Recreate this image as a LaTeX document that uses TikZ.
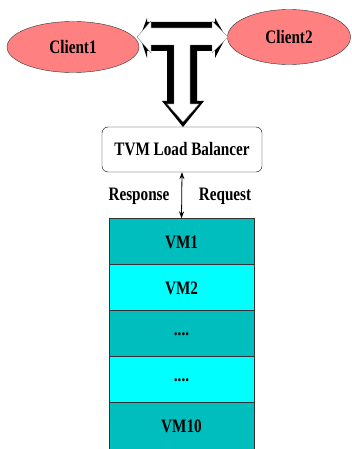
\documentclass[tikz,border=0pt]{standalone}
\usepackage{fontspec}
\setmainfont{Liberation Serif}
\usetikzlibrary{arrows.meta,shapes.geometric}

\definecolor{clientred}{RGB}{255,128,128}
\definecolor{vmdark}{RGB}{0,190,190}
\definecolor{vmlight}{RGB}{0,255,255}
\newcommand{\sqz}[1]{\scalebox{0.8}[1]{#1}}
\newcommand{\vmdots}{....}

\begin{document}
\begin{tikzpicture}[x=1pt,y=-1pt,
    lbl/.style={font=\fontsize{19}{21}\selectfont\bfseries},
    client/.style={ellipse,draw=black!80,fill=clientred,lbl},
    vmrow/.style={draw=black!80,line width=0.8pt,minimum width=145pt,minimum height=46.5pt,lbl}]
\useasboundingbox (0,0) rectangle (351,449);
\node[client,minimum width=132pt,minimum height=51pt] (c1) at (73,47) {\sqz{Client1}};
\node[client,minimum width=123pt,minimum height=55pt] (c2) at (289,37) {\sqz{Client2}};
% block arrow, black back face then white front
\fill[black] (140,37) -- (147,18) -- (147,22) -- (215,22) -- (215,18) -- (226,37)
    -- (215,58) -- (215,51) -- (197,51) -- (197,101) -- (204,101) -- (183,127)
    -- (162,101) -- (167,101) -- (167,51) -- (147,51) -- (147,58) -- cycle;
\filldraw[fill=white,draw=black!60,line width=0.3pt] (137,37) -- (151,21) -- (151,28)
    -- (212,28) -- (212,21) -- (228,37) -- (212,53) -- (212,45) -- (190,45)
    -- (190,104) -- (199,104) -- (183,122) -- (167,104) -- (174,104) -- (174,45)
    -- (151,45) -- (151,53) -- cycle;
\node[draw,rounded corners=6pt,minimum width=160pt,minimum height=45pt,lbl] (lb) at (182,149.5) {\sqz{TVM Load Balancer}};
\foreach \y/\A/\c in {242/VM1/vmdark,288/VM2/vmlight,334/\vmdots/vmdark,380/\vmdots/vmlight,426/VM10/vmdark} {
    \node[vmrow,fill=\c] (vm\y) at (181.5,\y) {\sqz{\A}};
}
\draw[line width=0.8pt,{Stealth[length=7pt,width=5pt]}-{Stealth[length=7pt,width=5pt]}] (lb.south) -- (vm242.north);
\node[lbl] (resp) at (139,196) {\sqz{Response}};
\node[lbl] (req) at (225,196) {\sqz{Request}};
\end{tikzpicture}
\end{document}
